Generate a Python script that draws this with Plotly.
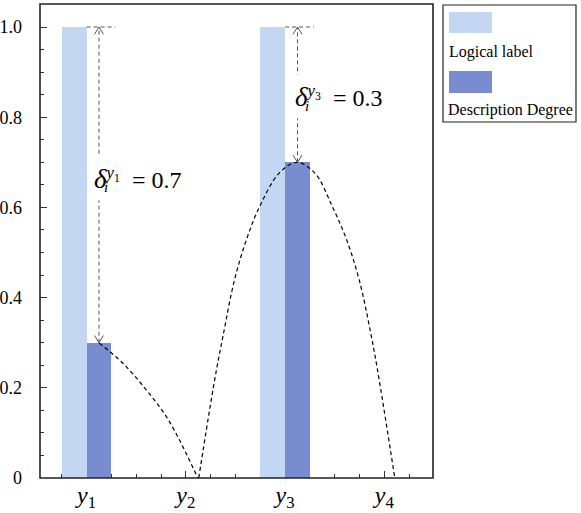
import plotly.graph_objects as go

# ---------------- data ----------------
categories = ["y1", "y2", "y3", "y4"]
positions = [1, 2, 3, 4]
tick_labels = ["<i>y</i><sub>1</sub>", "<i>y</i><sub>2</sub>", "<i>y</i><sub>3</sub>", "<i>y</i><sub>4</sub>"]
logical_label = [1.0, 0.0, 1.0, 0.0]
description_degree = [0.3, 0.0, 0.7, 0.0]
delta_values = ["0.7", "", "0.3", ""]
y_tick_vals = [0, 0.2, 0.4, 0.6, 0.8, 1.0]
y_tick_text = ["0", "0.2", "0.4", "0.6", "0.8", "1.0"]

# description curves (x in category units, y value)
curve1_x = [1.127, 1.368, 1.603, 1.804, 1.971, 2.12]
curve1_y = [0.299, 0.254, 0.195, 0.136, 0.069, 0.0]
curve2_x = [2.13, 2.29, 2.373, 2.49, 2.61, 2.74, 2.94, 3.12, 3.30, 3.48, 3.62, 3.747, 3.87, 3.948, 4.105]
curve2_y = [0.0, 0.217, 0.313, 0.439, 0.528, 0.60, 0.676, 0.70, 0.676, 0.60, 0.528, 0.439, 0.313, 0.217, 0.0]

# ---------------- style ----------------
LIGHT = "#c4d7f2"
DARK = "#788dcf"
FONT = "Liberation Serif"
BW = 0.25  # bar width in category units

fig = go.Figure()

fig.add_trace(go.Bar(
    x=[p - BW / 2 for p in positions], y=logical_label, width=BW,
    marker=dict(color=LIGHT, line=dict(width=0)), name="Logical label", showlegend=False))
fig.add_trace(go.Bar(
    x=[p + BW / 2 for p in positions], y=description_degree, width=BW,
    marker=dict(color=DARK, line=dict(width=0)), name="Description Degree", showlegend=False))

# dashed description curves
for cx, cy in [(curve1_x, curve1_y), (curve2_x, curve2_y)]:
    fig.add_trace(go.Scatter(x=cx, y=cy, mode="lines", line_shape="spline",
                             line=dict(color="black", width=1.2, dash="4px,3px"),
                             showlegend=False, hoverinfo="skip"))

# delta arrows
ADX, ADY = 0.045, 0.016
for p, lab, deg, dv in zip(positions, logical_label, description_degree, delta_values):
    if lab <= 0:
        continue
    xc = p + BW / 2
    fig.add_trace(go.Scatter(x=[p, p + 0.29], y=[lab, lab], mode="lines",
                             line=dict(color="#555555", width=1, dash="4px,3px"),
                             showlegend=False, hoverinfo="skip"))
    fig.add_trace(go.Scatter(x=[xc, xc], y=[deg, lab], mode="lines",
                             line=dict(color="#555555", width=1, dash="4px,3px"),
                             showlegend=False, hoverinfo="skip"))
    fig.add_trace(go.Scatter(x=[xc - ADX, xc, xc + ADX, None, xc - ADX, xc, xc + ADX],
                             y=[lab - ADY, lab, lab - ADY, None, deg + ADY, deg, deg + ADY],
                             mode="lines", line=dict(color="#555555", width=1),
                             showlegend=False, hoverinfo="skip"))

# delta annotations (white box hides the dashed arrow behind the text)
ann_pos = {0: (1.005, 0.665), 2: (3.025, 0.845)}
for i, (ax_, ay_) in ann_pos.items():
    fig.add_annotation(x=ax_, y=ay_, xref="x", yref="y", xanchor="left", yanchor="middle",
                       text="<span style='font-size:27px'><i>δ</i></span><sup><i>y</i><sub>%d</sub></sup>\u00a0\u00a0= %s"
                            % (positions[i], delta_values[i]),
                       showarrow=False, bgcolor="white", borderpad=6,
                       font=dict(family=FONT, size=24, color="black"))
    fig.add_annotation(x=ax_, y=ay_, xref="x", yref="y", xanchor="left", yanchor="middle",
                       text="<i>i</i>", showarrow=False, xshift=15, yshift=-9,
                       font=dict(family=FONT, size=15, color="black"))

# ---------------- layout ----------------
L, R, T, B = 40, 148, 4, 35
W, H = 581, 513
PW, PH = W - L - R, H - T - B


def px(xp):
    return (xp - L) / PW


def py(yp):
    return (H - B - yp) / PH


shapes = [
    dict(type="rect", xref="paper", yref="paper", x0=0, x1=1, y0=0, y1=1,
         line=dict(color="#222222", width=1.6), layer="above"),
    dict(type="rect", xref="paper", yref="paper", x0=px(443), x1=px(576), y0=py(122), y1=py(5),
         line=dict(color="#222222", width=1.2), fillcolor="white"),
    dict(type="rect", xref="paper", yref="paper", x0=px(449), x1=px(492), y0=py(33), y1=py(12),
         line=dict(width=0), fillcolor=LIGHT),
    dict(type="rect", xref="paper", yref="paper", x0=px(449), x1=px(492), y0=py(93), y1=py(71),
         line=dict(width=0), fillcolor=DARK),
]
fig.add_annotation(x=px(447), y=py(52), xref="paper", yref="paper", xanchor="left", yanchor="middle",
                   text="Logical label", showarrow=False, font=dict(family=FONT, size=16, color="black"))
fig.add_annotation(x=px(446), y=py(110), xref="paper", yref="paper", xanchor="left", yanchor="middle",
                   text="Description Degree", showarrow=False, font=dict(family=FONT, size=16, color="black"))

fig.update_layout(
    width=W, height=H,
    margin=dict(l=L, r=R, t=T, b=B, autoexpand=False),
    paper_bgcolor="white", plot_bgcolor="white",
    font=dict(family=FONT),
    barmode="overlay", bargap=0,
    showlegend=False,
    shapes=shapes,
    xaxis=dict(range=[0.531, 4.49], tickvals=positions, ticktext=tick_labels,
               ticks="inside", ticklen=7, tickwidth=1, tickcolor="#333333",
               minor=dict(tick0=0, dtick=0.25, ticks="inside", ticklen=4, tickcolor="#333333"),
               showgrid=False, zeroline=False, showline=False, layer="below traces",
               automargin=False, ticklabelstandoff=0,
               tickfont=dict(family=FONT, size=24, color="black")),
    yaxis=dict(range=[0, 1.051], tickvals=y_tick_vals, ticktext=y_tick_text,
               ticks="inside", ticklen=7, tickwidth=1, tickcolor="#333333",
               minor=dict(tick0=0, dtick=0.05, ticks="inside", ticklen=4, tickcolor="#333333"),
               showgrid=False, zeroline=False, showline=False,
               automargin=False, ticklabelstandoff=17,
               tickfont=dict(family=FONT, size=18, color="black")),
)

fig.write_html("out.html", config={"displayModeBar": False},
               post_script="document.body.style.margin='0';")
